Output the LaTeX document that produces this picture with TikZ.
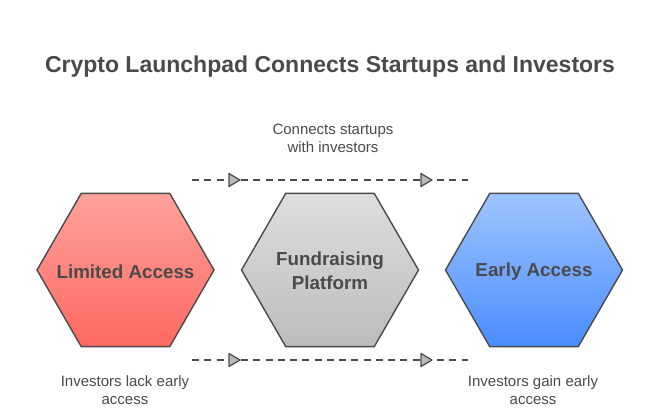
\documentclass[tikz,border=0pt]{standalone}
\usepackage{fontspec}
\setmainfont{Liberation Sans}
\usetikzlibrary{shapes.geometric,decorations.markings}
\definecolor{txt}{HTML}{4A4A4A}
\definecolor{edge}{HTML}{4A4A4A}
\tikzset{
  hex/.style={regular polygon, regular polygon sides=6, minimum size=177pt, inner sep=0pt,
    draw=edge, line width=1.4pt},
  hextxt/.style={text=txt, font=\bfseries\fontsize{18.8}{24}\selectfont, align=center},
  lbl/.style={text=txt, font=\fontsize{15}{18}\selectfont, align=center},
  tri/.style={solid, fill=gray!55, draw=edge, line width=1.2pt, line join=round},
  flow/.style={draw=edge, line width=1.3pt, dash pattern=on 7pt off 5.25pt,
    postaction={decorate}, decoration={markings,
      mark=at position 48pt with {\draw[tri] (-11pt,-6.5pt)--(0,0)--(-11pt,6.5pt)--cycle;},
      mark=at position 240pt with {\draw[tri] (-11pt,-6.5pt)--(0,0)--(-11pt,6.5pt)--cycle;}}}
}
\begin{document}
\begin{tikzpicture}[x=1pt,y=-1pt]
\useasboundingbox (0,0) rectangle (660,418);
\node[text=txt, font=\bfseries\fontsize{23}{26}\selectfont] (title) at (330,67) {Crypto Launchpad Connects Startups and Investors};
\coordinate (t1) at (192,180); \coordinate (t2) at (468,180);
\coordinate (b1) at (192,360); \coordinate (b2) at (468,360);
\draw[flow] (t1) -- (t2);
\draw[flow] (b1) -- (b2);
\node[hex, top color={rgb,255:red,255;green,162;blue,156}, bottom color={rgb,255:red,255;green,104;blue,97}] (lim) at (125.5,270) {};
\node[hex, top color={rgb,255:red,222;green,222;blue,222}, bottom color={rgb,255:red,188;green,188;blue,188}] (fund) at (330,270) {};
\node[hex, top color={rgb,255:red,158;green,196;blue,255}, bottom color={rgb,255:red,74;green,141;blue,255}] (early) at (534,270) {};
\node[hextxt] (limt) at ([yshift=-2pt]lim.center) {Limited Access};
\node[hextxt] (fundt) at ([yshift=-1pt]fund.center) {Fundraising\\Platform};
\node[hextxt] (earlyt) at ([yshift=-2pt]early.center) {Early Access};
\node[lbl] (l1) at (333,138) {Connects startups\\with investors};
\node[lbl] (l2) at (125,390) {Investors lack early\\access};
\node[lbl] (l3) at (533,390) {Investors gain early\\access};
\end{tikzpicture}
\end{document}
